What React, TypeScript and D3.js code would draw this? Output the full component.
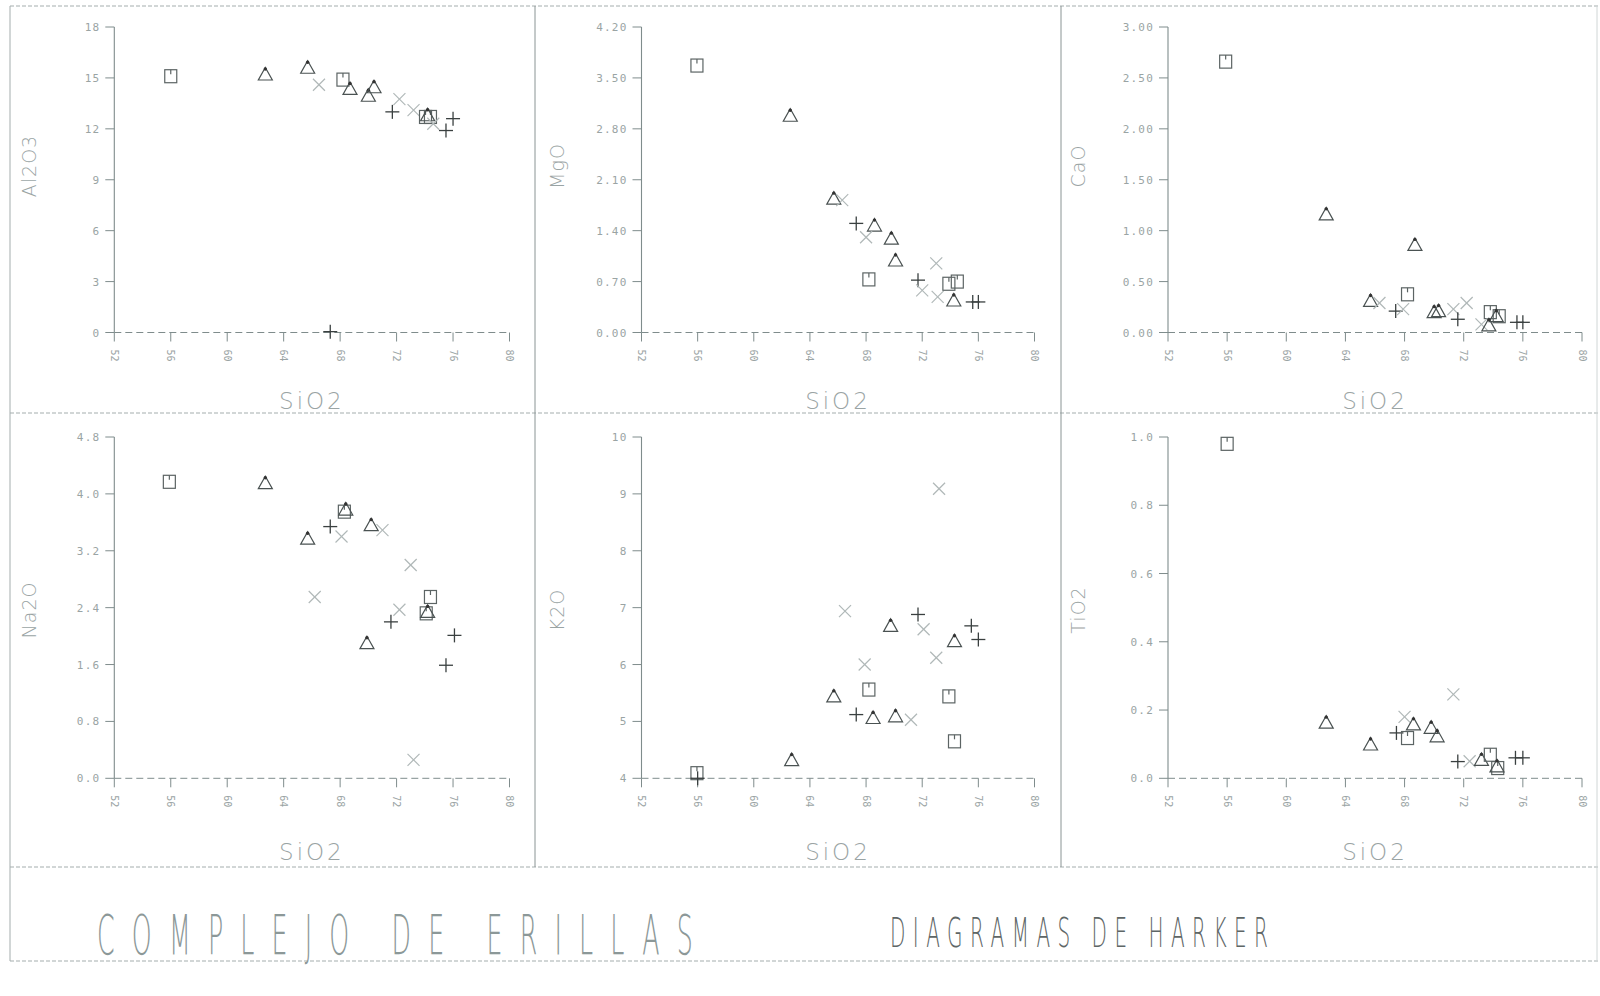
import React from "react";
import * as d3 from "d3";

// ---------- DATA ----------
const SIO2_TICKS = [52, 56, 60, 64, 68, 72, 76, 80];
const PANEL_LABELS = ["Al2O3", "MgO", "CaO", "Na2O", "K2O", "TiO2"];
const X_LABEL = "SiO2";
const TITLE = "COMPLEJO DE ERILLAS";
const SUBTITLE = "DIAGRAMAS DE HARKER";

const al2o3Ticks = [0, 3, 6, 9, 12, 15, 18];
const mgoTicks = [0, 0.7, 1.4, 2.1, 2.8, 3.5, 4.2];
const caoTicks = [0, 0.5, 1.0, 1.5, 2.0, 2.5, 3.0];
const na2oTicks = [0, 0.8, 1.6, 2.4, 3.2, 4.0, 4.8];
const k2oTicks = [4, 5, 6, 7, 8, 9, 10];
const tio2Ticks = [0, 0.2, 0.4, 0.6, 0.8, 1.0];
const tickFormats = ["d", ".2f", ".2f", ".1f", "d", ".1f"];

// [marker, SiO2, oxide]
type Pt = [string, number, number];
const al2o3Data: Pt[] = [
  ["sq", 56.0, 15.1], ["tri", 62.7, 15.2], ["tri", 65.7, 15.6], ["x", 66.5, 14.6],
  ["sq", 68.2, 14.9], ["tri", 68.7, 14.35], ["tri", 70.0, 13.95], ["tri", 70.4, 14.45],
  ["x", 72.2, 13.75], ["plus", 71.7, 13.0], ["x", 73.2, 13.1], ["sq", 74.05, 12.7],
  ["sq", 74.4, 12.7], ["tri", 74.2, 12.8], ["plus", 76.0, 12.6], ["plus", 75.5, 11.9],
  ["plus", 67.3, 0.05], ["x", 74.6, 12.3],
];
const mgoData: Pt[] = [
  ["sq", 55.95, 3.67], ["tri", 62.6, 2.98], ["tri", 65.7, 1.84], ["x", 66.3, 1.82],
  ["plus", 67.3, 1.5], ["tri", 68.6, 1.47], ["x", 68.0, 1.31], ["tri", 69.8, 1.29],
  ["tri", 70.1, 0.99], ["sq", 68.2, 0.73], ["x", 73.0, 0.95], ["plus", 71.7, 0.72],
  ["x", 72.0, 0.58], ["x", 73.1, 0.49], ["sq", 73.9, 0.67], ["sq", 74.5, 0.7],
  ["tri", 74.25, 0.44], ["plus", 75.6, 0.42], ["plus", 76.0, 0.42],
];
const caoData: Pt[] = [
  ["sq", 55.9, 2.66], ["tri", 62.7, 1.16], ["tri", 68.7, 0.86], ["tri", 65.7, 0.31],
  ["x", 66.3, 0.29], ["sq", 68.2, 0.375], ["plus", 67.4, 0.21], ["x", 67.9, 0.23],
  ["tri", 70.0, 0.2], ["tri", 70.3, 0.21], ["x", 72.2, 0.29], ["x", 71.3, 0.23],
  ["plus", 71.6, 0.13], ["sq", 73.8, 0.2], ["sq", 74.4, 0.16], ["tri", 74.2, 0.16],
  ["x", 73.2, 0.08], ["plus", 75.6, 0.1], ["plus", 76.0, 0.1], ["tri", 73.7, 0.07],
];
const na2oData: Pt[] = [
  ["sq", 55.9, 4.17], ["tri", 62.7, 4.15], ["tri", 65.7, 3.37], ["plus", 67.3, 3.54],
  ["x", 68.1, 3.4], ["sq", 68.3, 3.75], ["tri", 68.4, 3.78], ["tri", 70.2, 3.56],
  ["x", 71.0, 3.49], ["x", 73.0, 3.0], ["x", 66.2, 2.55], ["sq", 74.4, 2.55],
  ["sq", 74.1, 2.32], ["tri", 74.2, 2.34], ["x", 72.2, 2.37], ["plus", 71.6, 2.2],
  ["tri", 69.9, 1.9], ["plus", 76.1, 2.01], ["plus", 75.5, 1.59], ["x", 73.2, 0.26],
];
const k2oData: Pt[] = [
  ["sq", 55.95, 4.09], ["plus", 56.0, 4.0], ["tri", 62.7, 4.32], ["x", 66.5, 6.94],
  ["tri", 69.75, 6.68], ["plus", 71.7, 6.88], ["x", 72.1, 6.62], ["plus", 75.5, 6.68],
  ["plus", 76.0, 6.44], ["tri", 74.3, 6.41], ["x", 67.9, 6.0], ["x", 73.0, 6.12],
  ["sq", 68.2, 5.56], ["tri", 65.7, 5.44], ["sq", 73.9, 5.44], ["plus", 67.3, 5.12],
  ["tri", 68.5, 5.06], ["tri", 70.1, 5.09], ["x", 71.2, 5.03], ["sq", 74.3, 4.65],
  ["x", 73.2, 9.09],
];
const tio2Data: Pt[] = [
  ["sq", 56.0, 0.98], ["tri", 62.7, 0.163], ["tri", 65.7, 0.099], ["plus", 67.45, 0.133],
  ["sq", 68.2, 0.118], ["x", 68.0, 0.18], ["tri", 68.6, 0.158], ["tri", 69.8, 0.148],
  ["tri", 70.2, 0.123], ["x", 71.3, 0.246], ["plus", 71.6, 0.049], ["x", 72.4, 0.05],
  ["tri", 73.2, 0.054], ["sq", 73.8, 0.069], ["sq", 74.3, 0.03], ["tri", 74.25, 0.035],
  ["plus", 75.5, 0.06], ["plus", 76.0, 0.06],
];

const PANEL_DATA = [al2o3Data, mgoData, caoData, na2oData, k2oData, tio2Data];
const PANEL_TICKS = [al2o3Ticks, mgoTicks, caoTicks, na2oTicks, k2oTicks, tio2Ticks];

// ---------- LAYOUT ----------
const COL_X0 = [114.3, 641.5, 1168];
const COL_X1 = [509.5, 1034.5, 1582];
const ROW_TOP = [27, 437];
const ROW_BOT = [332.5, 778.3];
const YLAB_X = [29, 557, 1078];
const YLAB_Y = [166, 610];
const XLAB_Y = [409, 860];

const AXIS = "#7f8c8c";
const TXT = "#9aa4a4";
const MONO = "'DejaVu Sans Mono', monospace";
const SANS = "'DejaVu Sans', sans-serif";

function Marker({ type, x, y }: { type: string; x: number; y: number }) {
  if (type === "sq") {
    return (
      <g stroke="#5c6464" strokeWidth={1.2} fill="none">
        <rect x={x - 6} y={y - 6.5} width={12} height={13} />
        <line x1={x} y1={y - 6.5} x2={x} y2={y - 2} />
      </g>
    );
  }
  if (type === "tri") {
    return (
      <g>
        <path d={`M${x},${y - 7}L${x + 7},${y + 5.5}L${x - 7},${y + 5.5}Z`} stroke="#4a5252" strokeWidth={1.2} fill="none" />
        <circle cx={x} cy={y - 5.5} r={1.7} fill="#333" />
      </g>
    );
  }
  if (type === "plus") {
    return (
      <g stroke="#3a4040" strokeWidth={1.3}>
        <line x1={x - 7} y1={y} x2={x + 7} y2={y} />
        <line x1={x} y1={y - 7} x2={x} y2={y + 7} />
      </g>
    );
  }
  return (
    <g stroke="#b0b8b8" strokeWidth={1.2}>
      <line x1={x - 6} y1={y - 6} x2={x + 6} y2={y + 6} />
      <line x1={x - 6} y1={y + 6} x2={x + 6} y2={y - 6} />
    </g>
  );
}

function Panel({ idx }: { idx: number }) {
  const col = idx % 3;
  const row = Math.floor(idx / 3);
  const ticks = PANEL_TICKS[idx];
  const x = d3.scaleLinear().domain([SIO2_TICKS[0], SIO2_TICKS[SIO2_TICKS.length - 1]]).range([COL_X0[col], COL_X1[col]]);
  const y = d3.scaleLinear().domain([ticks[0], ticks[ticks.length - 1]]).range([ROW_BOT[row], ROW_TOP[row]]);
  const fmt = d3.format(tickFormats[idx]);
  const x0 = COL_X0[col];
  const yb = ROW_BOT[row];
  const yl = YLAB_Y[row];
  return (
    <g>
      <line x1={x0} y1={y(ticks[ticks.length - 1])} x2={x0} y2={yb} stroke={AXIS} strokeWidth={1.1} />
      {ticks.map((t) => (
        <g key={"y" + t}>
          <line x1={x0 - 9} y1={y(t)} x2={x0} y2={y(t)} stroke={AXIS} strokeWidth={1} />
          <text x={x0 - 14} y={y(t) + 4} textAnchor="end" fontFamily={MONO} fontSize={11} letterSpacing={1.2} fill={TXT}>
            {fmt(t)}
          </text>
        </g>
      ))}
      <line x1={x0} y1={yb} x2={COL_X1[col]} y2={yb} stroke={AXIS} strokeWidth={1} strokeDasharray="7 4" />
      {SIO2_TICKS.map((t) => (
        <g key={"x" + t}>
          <line x1={x(t)} y1={yb} x2={x(t)} y2={yb + 9} stroke={AXIS} strokeWidth={1} />
          <text
            transform={`translate(${x(t)},${yb + 23}) rotate(90)`}
            textAnchor="middle"
            dy={3.5}
            fontFamily={MONO}
            fontSize={10}
            fill={TXT}
          >
            {t}
          </text>
        </g>
      ))}
      <text
        transform={`translate(${YLAB_X[col]},${yl}) rotate(-90)`}
        textAnchor="middle"
        dy={7}
        fontFamily={SANS}
        fontWeight={200}
        fontSize={19}
        letterSpacing={1}
        fill={TXT}
      >
        {PANEL_LABELS[idx]}
      </text>
      <text
        x={(COL_X0[col] + COL_X1[col]) / 2}
        y={XLAB_Y[row]}
        textAnchor="middle"
        fontFamily={SANS}
        fontWeight={200}
        fontSize={23}
        letterSpacing={3}
        fill={TXT}
      >
        {X_LABEL}
      </text>
      {PANEL_DATA[idx].map((p, i) => (
        <Marker key={i} type={p[0]} x={x(p[1])} y={y(p[2])} />
      ))}
    </g>
  );
}

export default function App() {
  const frame = "#a4adad";
  return (
    <svg
      width={1600}
      height={996}
      viewBox="0 0 1600 996"
      style={{ position: "absolute", left: 0, top: 0, background: "#fff" }}
    >
      <rect x={0} y={0} width={1600} height={996} fill="#fff" />
      <g stroke={frame} strokeWidth={1} fill="none">
        <line x1={10} y1={6} x2={1600} y2={6} strokeDasharray="4 2" />
        <line x1={10} y1={413} x2={1600} y2={413} strokeDasharray="4 2" />
        <line x1={10} y1={867} x2={1600} y2={867} strokeDasharray="4 2" />
        <line x1={10} y1={961} x2={1600} y2={961} strokeDasharray="4 2" />
        <line x1={10} y1={6} x2={10} y2={961} />
        <line x1={535} y1={6} x2={535} y2={867} stroke="#8a9494" />
        <line x1={1061} y1={6} x2={1061} y2={867} stroke="#8a9494" />
        <line x1={1597} y1={6} x2={1597} y2={961} stroke="#d0d6d6" />
      </g>
      {PANEL_LABELS.map((_, i) => (
        <Panel key={i} idx={i} />
      ))}
      <text
        transform="translate(97,954) scale(0.46,1)"
        textLength={1295}
        lengthAdjust="spacing"
        fontFamily={SANS}
        fontWeight={200}
        fontSize={55}
        fill="#8c9898"
      >
        {TITLE}
      </text>
      <text
        transform="translate(890,947) scale(0.5,1)"
        textLength={756}
        lengthAdjust="spacing"
        fontFamily={SANS}
        fontWeight={200}
        fontSize={40}
        fill="#5e6666"
      >
        {SUBTITLE}
      </text>
    </svg>
  );
}
